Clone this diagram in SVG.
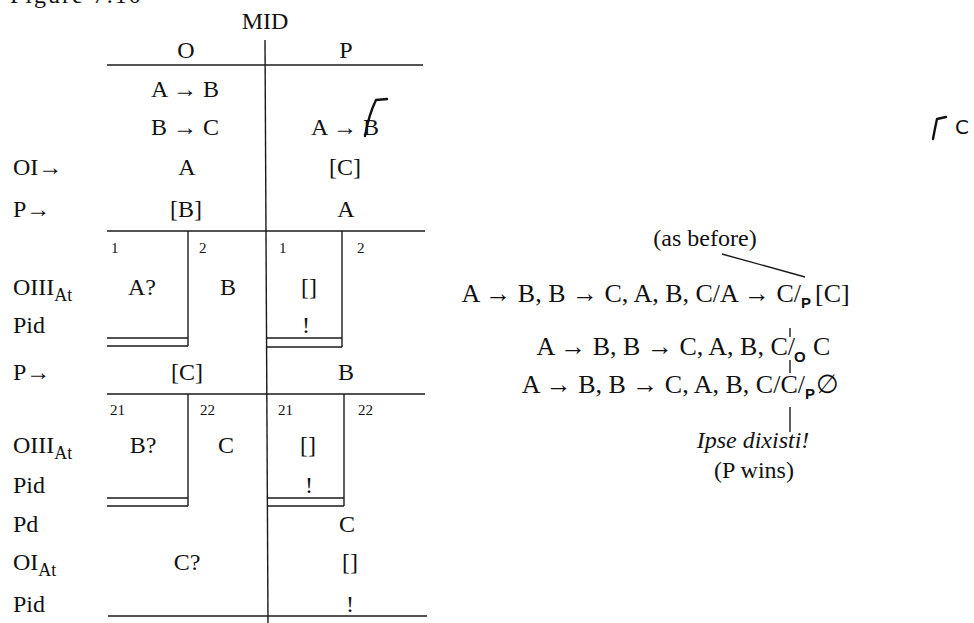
<svg xmlns="http://www.w3.org/2000/svg" width="974" height="623" viewBox="0 0 974 623">
  <style>
    text { font-family: "Liberation Serif", "Times New Roman", serif; font-size: 24px; fill: #111; }
    .c { text-anchor: middle; }
    .e { text-anchor: end; }
    .num { font-size: 15px; }
    .sub { font-size: 18px; }
    .row { font-size: 26px; }
    .psub { font-family: "Liberation Sans", Arial, sans-serif; font-size: 15px; font-weight: bold; }
    .it { font-style: italic; }
    .rule { stroke: #1a1a1a; stroke-width: 1.4; fill: none; }
    .mark { stroke: #111; stroke-width: 2.4; fill: none; stroke-linecap: round; }
  </style>

  <text x="10" y="3" style="letter-spacing:2px">Figure 7.10</text>

  <!-- dialogue table: O (opponent) and P (proponent) columns -->
  <g id="table">
    <g id="table-rules">
      <line class="rule" x1="265" y1="40" x2="268" y2="623"/>
      <line class="rule" x1="107" y1="65" x2="423" y2="65"/>
      <line class="rule" x1="107" y1="231" x2="425" y2="231"/>
      <line class="rule" x1="107" y1="394" x2="425" y2="394"/>
      <line class="rule" x1="108" y1="616" x2="427" y2="616"/>
      <!-- first branching -->
      <line class="rule" x1="188" y1="231" x2="188" y2="346"/>
      <line class="rule" x1="342" y1="231" x2="342" y2="347"/>
      <line class="rule" x1="107" y1="338" x2="188" y2="338"/>
      <line class="rule" x1="107" y1="346" x2="188" y2="346"/>
      <line class="rule" x1="266" y1="338" x2="342" y2="338"/>
      <line class="rule" x1="266" y1="347" x2="342" y2="347"/>
      <!-- second branching -->
      <line class="rule" x1="188" y1="394" x2="188" y2="506"/>
      <line class="rule" x1="344" y1="394" x2="344" y2="506"/>
      <line class="rule" x1="107" y1="498" x2="188" y2="498"/>
      <line class="rule" x1="107" y1="506" x2="188" y2="506"/>
      <line class="rule" x1="268" y1="498" x2="344" y2="498"/>
      <line class="rule" x1="268" y1="506" x2="344" y2="506"/>
    </g>

    <g id="table-head">
      <text class="c" x="265" y="29">MID</text>
      <text class="c" x="186" y="58">O</text>
      <text class="c" x="346" y="58">P</text>
    </g>

    <g id="row-labels">
      <text x="13" y="175">OI→</text>
      <text x="13" y="217">P→</text>
      <text x="13" y="295">OIII<tspan class="sub" dy="6">At</tspan></text>
      <text x="13" y="333">Pid</text>
      <text x="13" y="380">P→</text>
      <text x="13" y="453">OIII<tspan class="sub" dy="6">At</tspan></text>
      <text x="13" y="493">Pid</text>
      <text x="13" y="532">Pd</text>
      <text x="13" y="570">OI<tspan class="sub" dy="6">At</tspan></text>
      <text x="13" y="612">Pid</text>
    </g>

    <g id="col-O">
      <text class="c" x="185" y="97">A → B</text>
      <text class="c" x="185" y="135">B → C</text>
      <text class="c" x="187" y="175">A</text>
      <text class="c" x="186" y="217">[B]</text>
      <text class="num" x="111" y="253">1</text>
      <text class="num" x="199" y="253">2</text>
      <text class="c" x="142" y="295">A?</text>
      <text class="c" x="228" y="295">B</text>
      <text class="c" x="187" y="380">[C]</text>
      <text class="num" x="110" y="415">21</text>
      <text class="num" x="200" y="415">22</text>
      <text class="c" x="143" y="453">B?</text>
      <text class="c" x="226" y="453">C</text>
      <text class="c" x="187" y="570">C?</text>
    </g>

    <g id="col-P">
      <text class="c" x="345" y="135">A → B</text>
      <path class="mark" d="M376,100 Q369,114 365,136 M376,100 L387,99"/>
      <text class="c" x="345" y="175">[C]</text>
      <text class="c" x="346" y="217">A</text>
      <text class="num" x="279" y="253">1</text>
      <text class="num" x="357" y="253">2</text>
      <text class="c" x="309" y="295">[]</text>
      <text class="c" x="306" y="333">!</text>
      <text class="c" x="346" y="380">B</text>
      <text class="num" x="278" y="415">21</text>
      <text class="num" x="358" y="415">22</text>
      <text class="c" x="308" y="453">[]</text>
      <text class="c" x="309" y="493">!</text>
      <text class="c" x="347" y="532">C</text>
      <text class="c" x="350" y="570">[]</text>
      <text class="c" x="350" y="612">!</text>
    </g>
  </g>

  <!-- margin note -->
  <g id="margin-note">
    <path class="mark" d="M937,119 Q935,128 933,139 M937,119 L946,117" stroke-width="2"/>
    <text x="955" y="134" style="font-family:'DejaVu Sans',sans-serif;font-size:20px">C</text>
  </g>

  <!-- dialogue tree -->
  <g id="connectors">
    <line class="rule" x1="722" y1="254" x2="805" y2="277"/>
    <line class="rule" x1="790" y1="328" x2="790" y2="337"/>
    <line class="rule" x1="790" y1="360" x2="790" y2="373"/>
    <line class="rule" x1="790" y1="407" x2="790" y2="432"/>
  </g>

  <g id="node-before">
    <text class="c" x="705" y="246">(as before)</text>
  </g>
  <g id="node-1">
    <text class="e row" x="801" y="302">A → B, B → C, A, B, C/A → C/</text>
    <text class="psub" x="801" y="308">P</text>
    <text class="row" x="815" y="302">[C]</text>
  </g>
  <g id="node-2">
    <text class="e row" x="795" y="355">A → B, B → C, A, B, C/</text>
    <text class="psub" x="794" y="362">O</text>
    <text class="row" x="813" y="355">C</text>
  </g>
  <g id="node-3">
    <text class="e row" x="805" y="393">A → B, B → C, A, B, C/C/</text>
    <text class="psub" x="805" y="399">P</text>
    <text class="row" x="816" y="393">∅</text>
  </g>
  <g id="node-end">
    <text class="c it" x="753" y="448">Ipse dixisti!</text>
    <text class="c" x="754" y="478">(P wins)</text>
  </g>
</svg>
